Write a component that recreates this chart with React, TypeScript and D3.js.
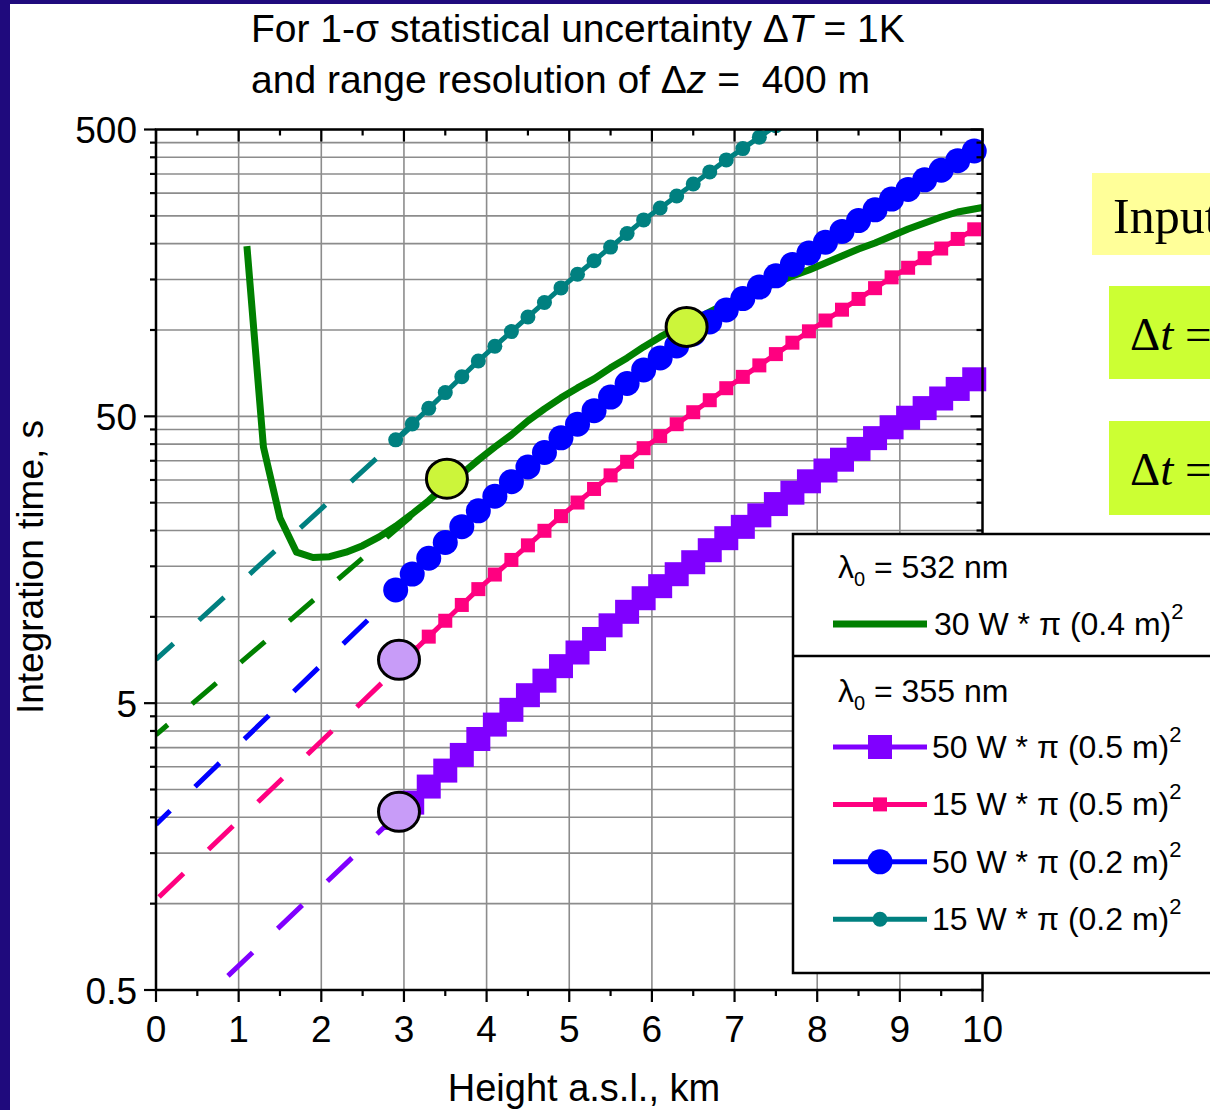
import * as d3 from "d3";

// heights (km) of the markers of the 355 nm series
const heights = [2.9, 3.1, 3.3, 3.5, 3.7, 3.9, 4.1, 4.3, 4.5, 4.7, 4.9, 5.1, 5.3, 5.5, 5.7, 5.9, 6.1, 6.3, 6.5, 6.7, 6.9, 7.1, 7.3, 7.5, 7.7, 7.9, 8.1, 8.3, 8.5, 8.7, 8.9, 9.1, 9.3, 9.5, 9.7, 9.9];

// integration time, s
const purple50W05 = [1.99, 2.25, 2.56, 2.91, 3.3, 3.75, 4.21, 4.74, 5.33, 5.99, 6.73, 7.51, 8.37, 9.34, 10.41, 11.61, 12.79, 14.08, 15.5, 17.07, 18.8, 20.59, 22.58, 24.72, 27.09, 29.68, 32.37, 35.3, 38.5, 41.97, 45.78, 49.44, 53.41, 57.7, 62.3, 67.31];
const pink15W05 = [6.62, 7.51, 8.53, 9.69, 11.0, 12.49, 14.04, 15.79, 17.75, 19.95, 22.44, 25.03, 27.91, 31.13, 34.71, 38.72, 42.63, 46.94, 51.68, 56.91, 62.67, 68.64, 75.26, 82.4, 90.3, 98.94, 107.9, 117.7, 128.3, 139.9, 152.6, 164.8, 178.0, 192.3, 207.7, 224.4];
const blue50W02 = [12.41, 14.09, 16.0, 18.16, 20.62, 23.41, 26.33, 29.6, 33.29, 37.41, 42.07, 46.93, 52.33, 58.36, 65.08, 72.59, 79.93, 88.0, 96.9, 106.7, 117.5, 128.7, 141.1, 154.5, 169.3, 185.5, 202.3, 220.6, 240.6, 262.3, 286.1, 309.0, 333.8, 360.6, 389.4, 420.7];
const teal15W02 = [41.4, 47.0, 53.3, 60.5, 68.7, 78.0, 87.8, 98.7, 111.0, 124.7, 140.2, 156.4, 174.4, 194.5, 216.9, 242.0, 266.4, 293.3, 323.0, 355.7, 391.7, 429.0, 470.3, 515.0];

// 532 nm curve
const greenHeights = [1.1, 1.3, 1.5, 1.7, 1.9, 2.1, 2.3, 2.5, 2.7, 2.9, 3.1, 3.3, 3.5, 3.7, 3.9, 4.1, 4.3, 4.5, 4.7, 4.9, 5.1, 5.3, 5.5, 5.7, 5.9, 6.1, 6.3, 6.5, 6.7, 6.9, 7.1, 7.3, 7.5, 7.7, 7.9, 8.1, 8.3, 8.5, 8.7, 8.9, 9.1, 9.3, 9.5, 9.7, 9.9, 10.0];
const green30W04 = [196, 39.1, 22.1, 16.8, 16.1, 16.2, 16.8, 17.7, 19.0, 20.7, 22.85, 25.4, 28.6, 31.5, 35.2, 39.1, 43.1, 48.2, 53.1, 58.0, 62.8, 67.5, 73.8, 79.9, 87.3, 94.6, 101.6, 108.1, 115.6, 123.7, 131.4, 137.9, 145.9, 154.3, 161.9, 171.3, 181.2, 191.6, 201.1, 212.7, 225.0, 236.1, 247.7, 257.8, 264.1, 267.3];

// dashed extrapolations down to the ground
const fitHeights = [0, 3.1];
const tealFit = [7.1, 46.3];
const greenFit = [3.88, 22.5];
const blueFit = [1.89, 13.74];
const pinkFit = [1.03, 7.43];
const purpleFit = [0.323, 2.29];

// highlighted points
const limePoints = [[3.52, 30.3], [6.42, 102.5]];
const lilacPoints = [[2.94, 7.08], [2.94, 2.09]];

const xTickLabels = ["0", "1", "2", "3", "4", "5", "6", "7", "8", "9", "10"];
const yMajor = [0.5, 5, 50, 500];

const plot = { left: 156, right: 982.5, top: 129.5, bottom: 990 };
const font = "Liberation Sans, Arial, sans-serif";
const serif = "Liberation Serif, Times New Roman, serif";

export default function App() {
  const x = d3.scaleLinear().domain([0, 10]).range([plot.left, plot.right]);
  const y = d3.scaleLog().domain([0.5, 500]).range([plot.bottom, plot.top]);
  const line = d3.line<[number, number]>().x(d => x(d[0])).y(d => y(d[1]));

  const yTicks = yMajor.slice(0, 3).flatMap(b => d3.range(1, 11).map(k => +(b * k).toFixed(2)));
  const yTicksAll = Array.from(new Set(yTicks));
  const xTicks = d3.range(0, 10.01, 0.5);

  const series = [
    { label: "50 W * \u03c0 (0.5 m)", values: purple50W05, fit: purpleFit, color: "#8000ff", shape: "square", size: 24, dashOffset: -30.8 },
    { label: "15 W * \u03c0 (0.5 m)", values: pink15W05, fit: pinkFit, color: "#ff0080", shape: "square", size: 14, dashOffset: -4.2 },
    { label: "50 W * \u03c0 (0.2 m)", values: blue50W02, fit: blueFit, color: "#0000ff", shape: "circle", size: 25, dashOffset: 14.4 },
    { label: "15 W * \u03c0 (0.2 m)", values: teal15W02, fit: tealFit, color: "#008080", shape: "circle", size: 15, dashOffset: 10.4 },
  ];

  const marker = (shape: string, size: number, cx: number, cy: number, color: string, key: any) =>
    shape === "square"
      ? <rect key={key} x={cx - size / 2} y={cy - size / 2} width={size} height={size} fill={color} />
      : <circle key={key} cx={cx} cy={cy} r={size / 2} fill={color} />;

  return (
    <svg width={1210} height={1110} fontFamily={font}
      style={{ position: "absolute", left: 0, top: 0, display: "block", background: "#fff" }}>
      <defs>
        <clipPath id="plotArea">
          <rect x={plot.left} y={plot.top} width={1000 - plot.left} height={plot.bottom - plot.top} />
        </clipPath>
      </defs>

      {/* slide border */}
      <rect x={0} y={0} width={1210} height={1110} fill="#fff" />
      <rect x={0} y={0} width={10} height={1110} fill="#1f0a7d" />
      <rect x={0} y={0} width={1210} height={4} fill="#1f0a7d" />

      {/* Title */}
      <text x={251} y={42} fontSize={39}>
        For 1-{"\u03c3"} statistical uncertainty {"\u0394"}<tspan fontStyle="italic">T</tspan> = 1K
      </text>
      <text x={251} y={93} fontSize={39}>
        and range resolution of {"\u0394"}<tspan fontStyle="italic">z</tspan>{" = \u00a0400 m"}
      </text>

      {/* Grid */}
      {yTicksAll.map(t => (
        <line key={"gy" + t} x1={plot.left} x2={plot.right} y1={y(t)} y2={y(t)} stroke="#8c8c8c" strokeWidth={1.6} />
      ))}
      {d3.range(1, 10).map(t => (
        <line key={"gx" + t} x1={x(t)} x2={x(t)} y1={plot.top} y2={plot.bottom} stroke="#8c8c8c" strokeWidth={1.6} />
      ))}

      <g clipPath="url(#plotArea)">
        {/* Dashed extrapolations */}
        <path d={line(fitHeights.map((h, i) => [h, greenFit[i]]) as any) || ""} fill="none" stroke="#008000"
          strokeWidth={5} strokeDasharray="32 32" strokeDashoffset={16.6} />
        {series.map(s => (
          <path key={"fit" + s.label} d={line(fitHeights.map((h, i) => [h, s.fit[i]]) as any) || ""} fill="none"
            stroke={s.color} strokeWidth={5} strokeDasharray="34 34.6" strokeDashoffset={s.dashOffset} />
        ))}

        {/* 532 nm */}
        <path d={line(greenHeights.map((h, i) => [h, green30W04[i]]) as any) || ""} fill="none" stroke="#008000"
          strokeWidth={7} strokeLinejoin="round" />

        {/* 355 nm */}
        {series.map(s => (
          <g key={s.label}>
            <path d={line(s.values.map((v, i) => [heights[i], v]) as any) || ""} fill="none" stroke={s.color} strokeWidth={5} />
            {s.values.map((v, i) => marker(s.shape, s.size, x(heights[i]), y(v), s.color, i))}
          </g>
        ))}

        {/* highlighted points */}
        {limePoints.map((p, i) => (
          <ellipse key={"lime" + i} cx={x(p[0])} cy={y(p[1])} rx={20.5} ry={19.5} fill="#ccf53a" stroke="#000" strokeWidth={3} />
        ))}
        {lilacPoints.map((p, i) => (
          <ellipse key={"lilac" + i} cx={x(p[0])} cy={y(p[1])} rx={20.5} ry={19.5} fill="#c89cf8" stroke="#000" strokeWidth={3} />
        ))}
      </g>

      {/* Frame and ticks */}
      <rect x={plot.left} y={plot.top} width={plot.right - plot.left} height={plot.bottom - plot.top}
        fill="none" stroke="#000" strokeWidth={2.5} />
      {yTicksAll.map(t => {
        const len = yMajor.includes(t) ? 12 : 6;
        return (
          <g key={"ty" + t}>
            <line x1={plot.left - len} x2={plot.left} y1={y(t)} y2={y(t)} stroke="#000" strokeWidth={2.2} />
            <line x1={plot.right - len} x2={plot.right} y1={y(t)} y2={y(t)} stroke="#000" strokeWidth={2.2} />
          </g>
        );
      })}
      {xTicks.map(t => {
        const len = Number.isInteger(t) ? 12 : 6;
        return (
          <g key={"tx" + t}>
            <line x1={x(t)} x2={x(t)} y1={plot.bottom} y2={plot.bottom + len} stroke="#000" strokeWidth={2.2} />
            <line x1={x(t)} x2={x(t)} y1={plot.top} y2={plot.top + len} stroke="#000" strokeWidth={2.2} />
          </g>
        );
      })}

      {/* Tick labels */}
      {yMajor.map(t => (
        <text key={"ly" + t} x={137} y={y(t) + 13.5} fontSize={37} textAnchor="end">{String(t)}</text>
      ))}
      {xTickLabels.map((l, i) => (
        <text key={"lx" + l} x={x(i)} y={1042} fontSize={37} textAnchor="middle">{l}</text>
      ))}

      {/* Axis titles */}
      <text x={584} y={1101} fontSize={38} textAnchor="middle">Height a.s.l., km</text>
      <text transform="translate(43,567) rotate(-90)" fontSize={37} textAnchor="middle">Integration time, s</text>

      {/* Legend */}
      <g>
        <rect x={793} y={534} width={440} height={439} fill="#fff" stroke="#000" strokeWidth={2.5} />
        <line x1={793} x2={1233} y1={656} y2={656} stroke="#000" strokeWidth={2.5} />
        <text x={838} y={578} fontSize={32}>
          {"\u03bb"}<tspan fontSize={20} dy={8}>0</tspan><tspan dy={-8}>{" = 532 nm"}</tspan>
        </text>
        <line x1={833} x2={927} y1={624} y2={624} stroke="#008000" strokeWidth={7} />
        <text x={934} y={635} fontSize={32}>
          30 W * {"\u03c0"} (0.4 m)<tspan fontSize={22} dy={-16}>2</tspan>
        </text>
        <text x={838} y={702} fontSize={32}>
          {"\u03bb"}<tspan fontSize={20} dy={8}>0</tspan><tspan dy={-8}>{" = 355 nm"}</tspan>
        </text>
        {series.map((s, i) => {
          const cy = 747 + i * 57.4;
          return (
            <g key={"lg" + s.label}>
              <line x1={833} x2={927} y1={cy} y2={cy} stroke={s.color} strokeWidth={5} />
              {marker(s.shape, s.size, 880, cy, s.color, "m")}
              <text x={932} y={cy + 11} fontSize={32}>
                {s.label}<tspan fontSize={22} dy={-16}>2</tspan>
              </text>
            </g>
          );
        })}
      </g>

      {/* Boxes on the right */}
      <rect x={1092} y={173} width={140} height={82} fill="#ffff99" />
      <text x={1113} y={233} fontSize={50} fontFamily={serif}>Input</text>
      <rect x={1109} y={286} width={120} height={93} fill="#ccff33" />
      <text x={1130} y={350} fontSize={47} fontFamily={serif}>
        {"\u0394"}<tspan fontStyle="italic">t</tspan> =
      </text>
      <rect x={1109} y={421} width={120} height={94} fill="#ccff33" />
      <text x={1130} y={485} fontSize={47} fontFamily={serif}>
        {"\u0394"}<tspan fontStyle="italic">t</tspan> =
      </text>
    </svg>
  );
}
